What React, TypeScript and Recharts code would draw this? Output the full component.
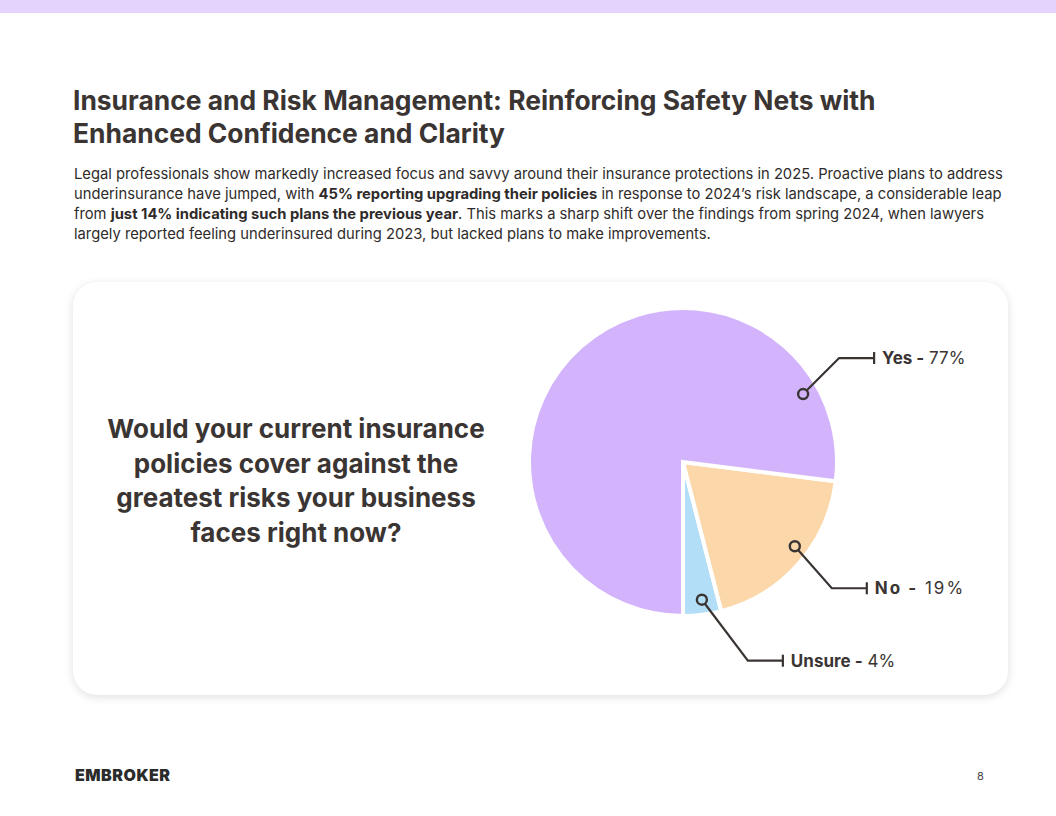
import { PieChart, Pie, Cell } from "recharts";

const categories = ["Unsure", "No", "Yes"];
const shares = [4, 19, 77];
const sliceColors = ["#b2dff7", "#fbd7a9", "#d3b4fc"];

const data = categories.map((name, i) => ({ name, value: shares[i] }));

const INK = "#3a3533";
const RAD = Math.PI / 180;

// where each label's marker sits and which way its leader runs
const labelLayout: Record<string, { angle: number; r: number; dx: number; dy: number; spacing: number }> = {
  Yes: { angle: 29.5, r: 138, dx: 36, dy: -36, spacing: 0 },
  No: { angle: -37, r: 140, dx: 37, dy: 42, spacing: 2 },
  Unsure: { angle: -82.2, r: 139, dx: 46, dy: 61, spacing: 0 },
};

function SliceLabel(props: any) {
  const { cx, cy, name, value } = props;
  const l = labelLayout[name];
  if (!l) return null;
  const mx = cx + l.r * Math.cos(l.angle * RAD);
  const my = cy - l.r * Math.sin(l.angle * RAD);
  const ex = mx + l.dx;
  const ey = my + l.dy;
  const hx = ex + 35;
  return (
    <g>
      <polyline
        points={`${mx},${my} ${ex},${ey} ${hx},${ey}`}
        fill="none"
        stroke={INK}
        strokeWidth={2.2}
      />
      <line x1={hx} y1={ey - 6} x2={hx} y2={ey + 6} stroke={INK} strokeWidth={2.2} />
      <circle cx={mx} cy={my} r={5} fill={sliceColors[categories.indexOf(name)]} stroke={INK} strokeWidth={2.4} />
      <text
        x={hx + 8}
        y={ey + 6}
        fill={INK}
        fontSize={17}
        fontFamily="Inter, sans-serif"
        letterSpacing={l.spacing}
      >
        <tspan fontWeight={700}>{name} -</tspan>
        <tspan fontWeight={400}> {value}%</tspan>
      </text>
    </g>
  );
}

export default function App() {
  return (
    <div
      style={{
        position: "absolute",
        top: 0,
        left: 0,
        width: 1056,
        height: 816,
        background: "#fff",
        fontFamily: "Inter, sans-serif",
        color: INK,
        overflow: "hidden",
      }}
    >
      <div style={{ height: 13, background: "#e4d4fd" }} />

      <h1
        style={{
          position: "absolute",
          left: 73,
          top: 84,
          margin: 0,
          fontSize: 26.4,
          lineHeight: "33px",
          fontWeight: 700,
          color: INK,
          whiteSpace: "nowrap",
        }}
      >
        Insurance and Risk Management: Reinforcing Safety Nets with
        <br />
        Enhanced Confidence and Clarity
      </h1>

      <p
        style={{
          position: "absolute",
          left: 74,
          top: 164,
          margin: 0,
          fontSize: 14.75,
          lineHeight: "20px",
          color: "#2f2b2a",
          whiteSpace: "nowrap",
        }}
      >
        Legal professionals show markedly increased focus and savvy around their insurance protections in 2025. Proactive plans to address
        <br />
        underinsurance have jumped, with <b>45% reporting upgrading their policies</b> in response to 2024’s risk landscape, a considerable leap
        <br />
        from <b>just 14% indicating such plans the previous year</b>. This marks a sharp shift over the findings from spring 2024, when lawyers
        <br />
        largely reported feeling underinsured during 2023, but lacked plans to make improvements.
      </p>

      <div
        style={{
          position: "absolute",
          left: 73,
          top: 282,
          width: 935,
          height: 413,
          borderRadius: 24,
          background: "#fff",
          boxShadow: "0 2px 10px rgba(0,0,0,0.13)",
        }}
      >
        <div
          style={{
            position: "absolute",
            left: 20,
            top: 130,
            width: 406,
            textAlign: "center",
            fontSize: 26,
            lineHeight: "34.5px",
            fontWeight: 700,
            color: INK,
          }}
        >
          Would your current insurance policies cover against the greatest risks your business faces right now?
        </div>

        <div style={{ position: "absolute", left: 0, top: 0 }}>
          <PieChart width={935} height={413} margin={{ top: 0, right: 0, bottom: 0, left: 0 }}>
            <Pie
              data={data}
              dataKey="value"
              nameKey="name"
              cx={610}
              cy={180}
              outerRadius={154}
              startAngle={-90}
              endAngle={270}
              stroke="#fff"
              strokeWidth={4}
              label={SliceLabel}
              labelLine={false}
              isAnimationActive={false}
            >
              {data.map((d, i) => (
                <Cell key={d.name} fill={sliceColors[i]} />
              ))}
            </Pie>
          </PieChart>
        </div>
      </div>

      <div
        style={{
          position: "absolute",
          left: 75,
          top: 765,
          fontSize: 16,
          fontWeight: 900,
          letterSpacing: 0.5,
          color: "#2b2b2b",
        }}
      >
        EMBROKER
      </div>
      <div style={{ position: "absolute", left: 977, top: 769, fontSize: 11, color: "#444" }}>8</div>
    </div>
  );
}
